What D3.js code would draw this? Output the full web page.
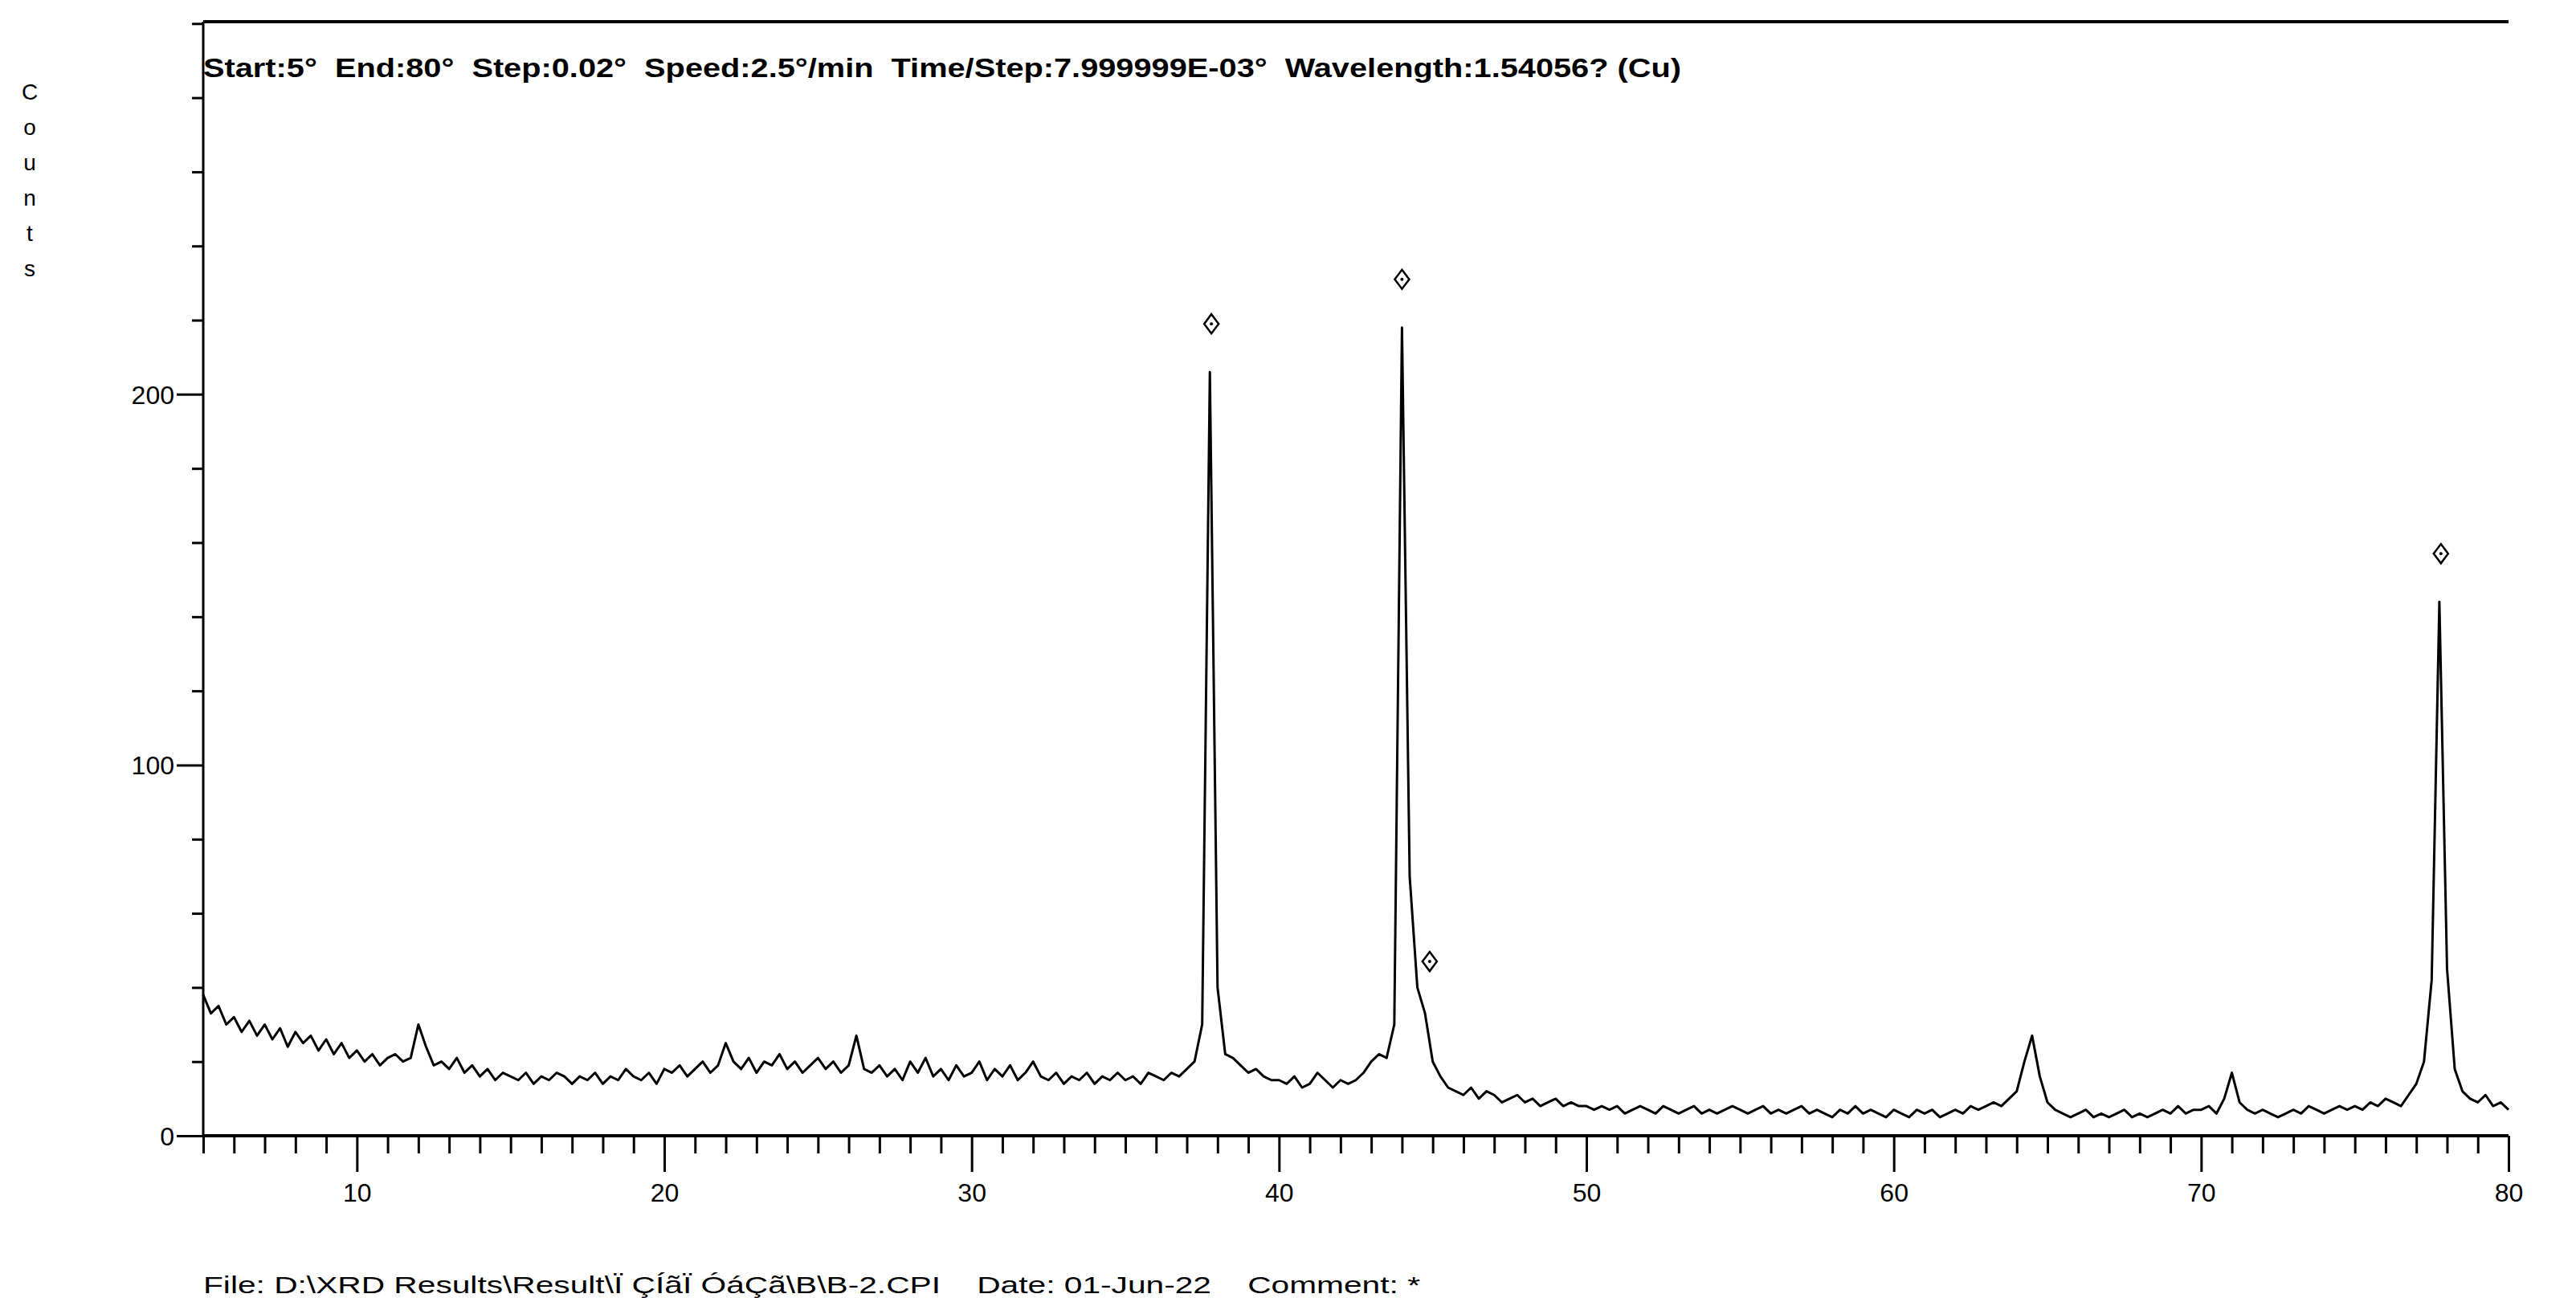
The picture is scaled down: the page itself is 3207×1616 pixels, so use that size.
<!DOCTYPE html>
<html><head><meta charset="utf-8">
<script src="https://cdn.jsdelivr.net/npm/d3@7"></script>
<style>body{margin:0;background:#fff}svg{display:block}text{font-family:"Liberation Sans",Arial,sans-serif;fill:#000;white-space:pre}</style>
</head><body>
<script>
const thetaStart = 5, thetaStep = 0.25;
const counts = [
38,33,35,30,32,28,31,27,30,26,29,24,28,25,27,23,26,22,25,21,
23,20,22,19,21,22,20,21,30,24,19,20,18,21,17,19,16,18,15,17,
16,15,17,14,16,15,17,16,14,16,15,17,14,16,15,18,16,15,17,14,
18,17,19,16,18,20,17,19,25,20,18,21,17,20,19,22,18,20,17,19,
21,18,20,17,19,27,18,17,19,16,18,15,20,17,21,16,18,15,19,16,
17,20,15,18,16,19,15,17,20,16,15,17,14,16,15,17,14,16,15,17,
15,16,14,17,16,15,17,16,18,20,30,206,40,22,21,19,17,18,16,15,
15,14,16,13,14,17,15,13,15,14,15,17,20,22,21,30,218,70,40,33,
20,16,13,12,11,13,10,12,11,9,10,11,9,10,8,9,10,8,9,8,
8,7,8,7,8,6,7,8,7,6,8,7,6,7,8,6,7,6,7,8,
7,6,7,8,6,7,6,7,8,6,7,6,5,7,6,8,6,7,6,5,
7,6,5,7,6,7,5,6,7,6,8,7,8,9,8,10,12,20,27,16,
9,7,6,5,6,7,5,6,5,6,7,5,6,5,6,7,6,8,6,7,
7,8,6,10,17,9,7,6,7,6,5,6,7,6,8,7,6,7,8,7,
8,7,9,8,10,9,8,11,14,20,42,144,45,18,12,10,9,11,8,9,
7];
const markerTheta = [37.8, 44.0, 44.9, 77.8];
const markerCounts = [219, 231, 47, 157];
const xTickLabels = [10,20,30,40,50,60,70,80];
const yTickLabels = [0,100,200];
const headerText = "Start:5°  End:80°  Step:0.02°  Speed:2.5°/min  Time/Step:7.999999E-03°  Wavelength:1.54056? (Cu)";
const footerText = "File: D:\\XRD Results\\Result\\Ï ÇÍãÏ ÓáÇã\\B\\B-2.CPI    Date: 01-Jun-22    Comment: *";
const axisTitle = "Counts";

const W=3207,H=1616, L=253, R=3123, T=27, B=1414;
const svg=d3.select("body").append("svg").attr("width",W).attr("height",H);
const x=d3.scaleLinear().domain([5,80]).range([L,R]);
const y=d3.scaleLinear().domain([0,300.5]).range([B,T]);
const data=counts.map((c,i)=>[thetaStart+i*thetaStep,c]);

svg.append("line").attr("x1",L).attr("x2",R).attr("y1",T).attr("y2",T).attr("stroke","#000").attr("stroke-width",4);
const xa=svg.append("g").attr("transform",`translate(0,${B})`)
 .call(d3.axisBottom(x).tickValues(d3.range(5,81,1)).tickSize(22).tickFormat(""));
xa.select(".domain").attr("stroke-width",4).attr("d",`M${L},0H${R}`);
xa.selectAll(".tick line").attr("stroke-width",3).attr("y2",d=>d%10===0?45:22);
xa.selectAll(".tick").filter(d=>xTickLabels.includes(d)).append("text").attr("y",82).attr("text-anchor","middle").attr("font-size",32).text(d=>d);
const ya=svg.append("g").attr("transform",`translate(${L},0)`)
 .call(d3.axisLeft(y).tickValues(d3.range(0,301,20)).tickSize(14).tickFormat(""));
ya.select(".domain").attr("stroke-width",3).attr("d",`M0,${B}V${T}`);
ya.selectAll(".tick line").attr("stroke-width",3).attr("x2",d=>yTickLabels.includes(d)?-33:-14);
ya.selectAll(".tick").filter(d=>yTickLabels.includes(d)).append("text").attr("x",-36).attr("dy","0.35em").attr("text-anchor","end").attr("font-size",32).text(d=>d);

svg.append("path").datum(data).attr("fill","none").attr("stroke","#000").attr("stroke-width",3).attr("stroke-linejoin","round")
 .attr("d",d3.line().x(d=>x(d[0])).y(d=>y(d[1])));

markerTheta.forEach((t,i)=>{
 const cx=x(t), cy=y(markerCounts[i]);
 svg.append("path").attr("d",`M${cx},${cy-12}L${cx+9},${cy}L${cx},${cy+12}L${cx-9},${cy}Z`).attr("fill","none").attr("stroke","#000").attr("stroke-width",2.5);
 svg.append("circle").attr("cx",cx).attr("cy",cy).attr("r",2).attr("fill","#000");
});

svg.append("text").attr("x",L).attr("y",96).attr("font-size",33).attr("font-weight","bold").attr("textLength",1840).attr("lengthAdjust","spacingAndGlyphs").text(headerText);
svg.append("text").attr("x",253).attr("y",1610).attr("font-size",30).attr("textLength",1515).attr("lengthAdjust","spacingAndGlyphs").text(footerText);
axisTitle.split("").forEach((ch,i)=>svg.append("text").attr("x",37).attr("y",124+i*44).attr("text-anchor","middle").attr("font-size",28).text(ch));
</script>
</body></html>
